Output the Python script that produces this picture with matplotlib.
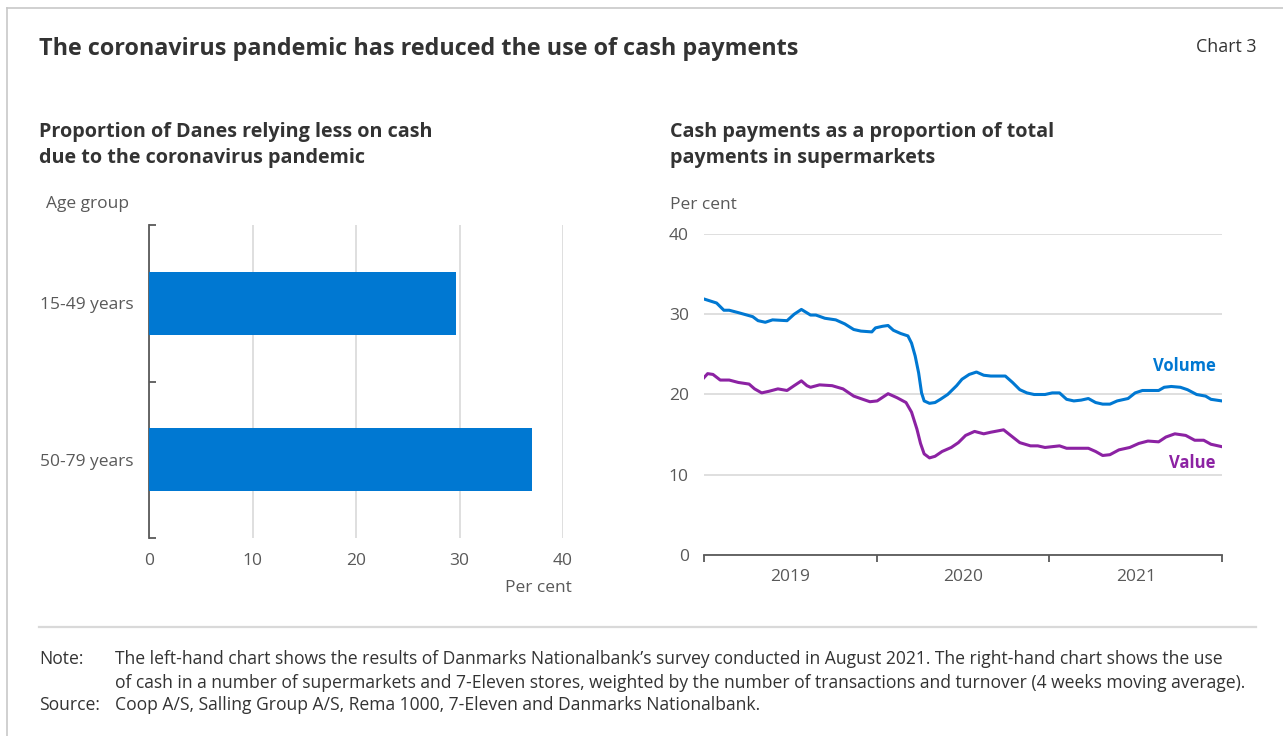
import numpy as np
import matplotlib
matplotlib.use("Agg")
import matplotlib.pyplot as plt
from matplotlib.lines import Line2D

plt.rcParams["font.family"] = ["Open Sans", "DejaVu Sans"]

# --- left panel: share of Danes relying less on cash ---
age_groups = ["15-49 years", "50-79 years"]
less_cash = [29.7, 37.0]

# --- right panel: cash share of supermarket payments (years since 1 Jan 2019) ---
volume_t = [0.000, 0.073, 0.115, 0.146, 0.199, 0.282, 0.313, 0.355, 0.397, 0.481,
            0.522, 0.564, 0.617, 0.648, 0.700, 0.763, 0.815, 0.867, 0.909, 0.972,
            0.993, 1.034, 1.066, 1.097, 1.139, 1.181, 1.202, 1.223, 1.243, 1.260,
            1.275, 1.306, 1.338, 1.369, 1.411, 1.463, 1.494, 1.536, 1.578, 1.620,
            1.661, 1.745, 1.787, 1.829, 1.870, 1.912, 1.975, 2.017, 2.059, 2.100,
            2.142, 2.184, 2.226, 2.268, 2.309, 2.351, 2.393, 2.456, 2.497, 2.539,
            2.591, 2.633, 2.665, 2.706, 2.759, 2.800, 2.853, 2.905, 2.936, 2.999]
volume = [31.9, 31.4, 30.5, 30.5, 30.2, 29.7, 29.2, 29.0, 29.3, 29.2,
          30.0, 30.6, 29.9, 29.9, 29.5, 29.3, 28.8, 28.1, 27.9, 27.8,
          28.3, 28.5, 28.6, 28.0, 27.6, 27.3, 26.4, 24.8, 22.7, 20.2,
          19.2, 18.9, 19.0, 19.4, 20.0, 21.1, 21.9, 22.5, 22.8, 22.4,
          22.3, 22.3, 21.5, 20.6, 20.2, 20.0, 20.0, 20.2, 20.2, 19.4,
          19.2, 19.3, 19.5, 19.0, 18.8, 18.8, 19.2, 19.5, 20.2, 20.5,
          20.5, 20.5, 20.9, 21.0, 20.9, 20.6, 20.0, 19.8, 19.4, 19.2]

value_t = [0.000, 0.021, 0.052, 0.094, 0.146, 0.199, 0.261, 0.293, 0.334, 0.376,
           0.428, 0.481, 0.522, 0.564, 0.596, 0.617, 0.669, 0.742, 0.805, 0.867,
           0.920, 0.961, 1.003, 1.045, 1.066, 1.118, 1.170, 1.202, 1.233, 1.254,
           1.275, 1.306, 1.338, 1.379, 1.432, 1.473, 1.515, 1.567, 1.620, 1.661,
           1.735, 1.776, 1.829, 1.891, 1.933, 1.975, 2.059, 2.100, 2.163, 2.226,
           2.268, 2.309, 2.351, 2.403, 2.466, 2.518, 2.571, 2.633, 2.675, 2.727,
           2.790, 2.842, 2.894, 2.936, 2.999]
value = [22.1, 22.6, 22.5, 21.8, 21.8, 21.5, 21.3, 20.7, 20.2, 20.4,
         20.7, 20.5, 21.1, 21.7, 21.1, 20.9, 21.2, 21.1, 20.7, 19.8,
         19.4, 19.1, 19.2, 19.8, 20.1, 19.6, 19.0, 17.8, 15.7, 13.9,
         12.6, 12.1, 12.3, 12.9, 13.4, 14.0, 14.9, 15.4, 15.1, 15.3,
         15.6, 14.9, 14.0, 13.6, 13.6, 13.4, 13.6, 13.3, 13.3, 13.3,
         12.9, 12.4, 12.5, 13.1, 13.4, 13.9, 14.2, 14.1, 14.7, 15.1,
         14.9, 14.3, 14.3, 13.8, 13.5]

years = ["2019", "2020", "2021"]

BLUE = "#0078d2"
PURPLE = "#8c22a3"
DARK = "#333333"
GREY = "#595959"
GRID = "#d9d9d9"
TICK_FS = 12.5

W, H = 1283, 736
fig = plt.figure(figsize=(W / 100, H / 100), dpi=100)


def fx(px):
    return px / W


def fy(py):
    return 1 - py / H


# frame lines (top and left) and note separator
fig.add_artist(Line2D([fx(7), fx(1283)], [fy(8), fy(8)], color="#c8c8c8", lw=1.2))
fig.add_artist(Line2D([fx(7), fx(7)], [fy(8), fy(736)], color="#c8c8c8", lw=1.2))
fig.add_artist(Line2D([fx(39), fx(1256)], [fy(627), fy(627)], color=GRID, lw=1.6))

fig.text(fx(39), fy(49), "The coronavirus pandemic has reduced the use of cash payments",
         fontsize=16.8, fontweight="bold", color=DARK, va="center")
fig.text(fx(1256), fy(47), "Chart 3", fontsize=12.8, color=DARK, va="center", ha="right")

fig.text(fx(39), fy(145), "Proportion of Danes relying less on cash\ndue to the coronavirus pandemic",
         fontsize=14.2, fontweight="bold", color=DARK, va="center", linespacing=1.4)
fig.text(fx(670), fy(145), "Cash payments as a proportion of total\npayments in supermarkets",
         fontsize=14.2, fontweight="bold", color=DARK, va="center", linespacing=1.4)

# ---- left: horizontal bars ----
ax1 = fig.add_axes([fx(149), fy(538), fx(563 - 149), (538 - 225) / H])
ax1.barh(range(len(age_groups)), less_cash, height=0.4, color=BLUE, zorder=3)
ax1.set_ylim(1.5, -0.5)
ax1.set_xlim(0, 40)
ax1.set_xticks([0, 10, 20, 30, 40])
ax1.set_yticks([0, 1])
ax1.set_yticklabels(age_groups)
ax1.set_yticks([-0.5, 0.5, 1.5], minor=True)
ax1.grid(axis="x", color=GRID, lw=1.2, zorder=0)
for s in ["top", "right", "bottom"]:
    ax1.spines[s].set_visible(False)
ax1.spines["left"].set_color(GREY)
ax1.spines["left"].set_linewidth(1.3)
ax1.tick_params(axis="y", which="major", length=0, pad=11, labelsize=TICK_FS, labelcolor=GREY)
ax1.tick_params(axis="y", which="minor", direction="in", length=5, width=1.3, color=GREY)
ax1.tick_params(axis="x", length=0, pad=11, labelsize=TICK_FS, labelcolor=GREY)
fig.text(fx(46), fy(204), "Age group", fontsize=TICK_FS, color=GREY, va="center")
fig.text(fx(572), fy(588), "Per cent", fontsize=TICK_FS, color=GREY, va="center", ha="right")

# ---- right: cash share lines ----
ax2 = fig.add_axes([fx(704), fy(555), fx(1222 - 704), (555 - 234) / H])
ax2.plot(volume_t, volume, color=BLUE, lw=2.2, zorder=3)
ax2.plot(value_t, value, color=PURPLE, lw=2.2, zorder=3)
ax2.set_xlim(0, 3)
ax2.set_ylim(0, 40)
ax2.set_yticks([0, 10, 20, 30, 40])
ax2.set_xticks([0, 1, 2, 3])
ax2.set_xticklabels([])
ax2.set_xticks([0.5, 1.5, 2.5], minor=True)
ax2.set_xticklabels(years, minor=True)
ax2.grid(axis="y", color=GRID, lw=1.2, zorder=0)
for s in ["top", "right", "left"]:
    ax2.spines[s].set_visible(False)
ax2.spines["bottom"].set_color(GREY)
ax2.spines["bottom"].set_linewidth(1.3)
ax2.tick_params(axis="x", which="major", direction="out", length=5, width=1.3, color=GREY)
ax2.tick_params(axis="x", which="minor", length=0, pad=10, labelsize=TICK_FS, labelcolor=GREY)
ax2.tick_params(axis="y", length=0, pad=11, labelsize=TICK_FS, labelcolor=GREY)
fig.text(fx(670), fy(205), "Per cent", fontsize=TICK_FS, color=GREY, va="center")
ax2.text(2.962, 23.6, "Volume", color=BLUE, fontsize=12, fontweight="bold", ha="right", va="center")
ax2.text(2.962, 11.5, "Value", color=PURPLE, fontsize=12, fontweight="bold", ha="right", va="center")

# ---- notes ----
note_kw = dict(fontsize=12.65, color=DARK, va="center")
fig.text(fx(39), fy(659), "Note:", **note_kw)
fig.text(fx(115), fy(659), "The left-hand chart shows the results of Danmarks Nationalbank\u2019s survey "
         "conducted in August 2021. The right-hand chart shows the use", **note_kw)
fig.text(fx(115), fy(683), "of cash in a number of supermarkets and 7-Eleven stores, weighted by the "
         "number of transactions and turnover (4 weeks moving average).", **note_kw)
fig.text(fx(39), fy(705), "Source:", **note_kw)
fig.text(fx(115), fy(705), "Coop A/S, Salling Group A/S, Rema 1000, 7-Eleven and Danmarks Nationalbank.",
         **note_kw)

fig.savefig("out.png", dpi=100, facecolor="white")
